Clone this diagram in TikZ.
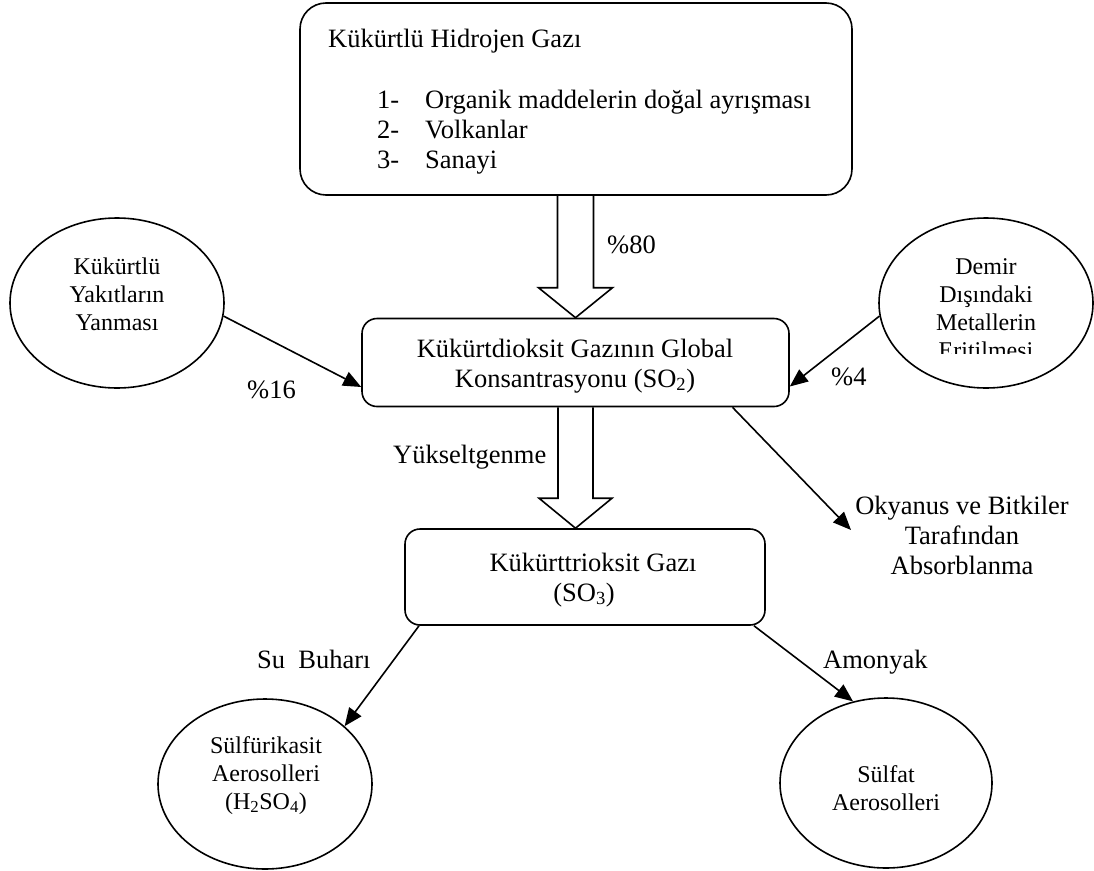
\documentclass[tikz,border=0pt]{standalone}
\usepackage{fontspec}
\setmainfont{Liberation Serif}
\usetikzlibrary{shapes.geometric,arrows.meta,calc}
\newcommand\boxfont{\fontsize{26.5}{30}\selectfont}
\newcommand\ellfont{\fontsize{24}{28}\selectfont}
\newcommand\mystack[1]{\begin{tabular}[t]{@{}c@{}}#1\end{tabular}}
\begin{document}
\begin{tikzpicture}[x=1pt,y=-1pt,
  box/.style={draw,rounded corners=#1,line width=1.6pt,inner sep=0pt},
  box/.default=15pt,
  ell/.style={draw,ellipse,line width=1.6pt,inner sep=0pt,minimum width=214pt,minimum height=170pt},
  txt/.style={inner sep=0pt,font=\boxfont,anchor=base west},
  ctxt/.style={inner sep=0pt,font=\boxfont,anchor=base},
  etxt/.style={inner sep=0pt,font=\ellfont,anchor=base},
  conn/.style={line width=1.6pt,-{Triangle[length=18pt,width=15pt]}},
  hollow/.style={line width=1.6pt,line join=miter}]
\useasboundingbox (0,0) rectangle (1094,870);
\fill[white] (0,0) rectangle (1094,870);
% boxes
\node[box=26pt, minimum width=552pt, minimum height=192pt] (b1) at (576,99) {};
\node[box=15pt, minimum width=427pt, minimum height=88pt] (b2) at (575.5,362.5) {};
\node[box=15pt, minimum width=360pt, minimum height=96pt] (b3) at (585,577) {};
% ellipses
\node[ell] (e1) at (117,303) {};
\node[ell] (e2) at (986,303) {};
\node[ell] (e3) at (265,784) {};
\node[ell, minimum width=212pt] (e4) at (886,783) {};
% box texts
\node[txt] (t1) at (328,47) {Kükürtlü Hidrojen Gazı};
\node[txt] (t1list) at (377,108) {\begin{tabular}[t]{@{}p{48pt}@{}l@{}}1- & Organik maddelerin doğal ayrışması\\ 2- & Volkanlar\\ 3- & Sanayi\end{tabular}};
\node[ctxt] (t2) at (575,357) {\mystack{Kükürtdioksit Gazının Global\\Konsantrasyonu (SO\textsubscript{2})}};
\node[ctxt] (t3a) at (593,571) {Kükürttrioksit Gazı};
\node[ctxt] (t3b) at (584,601) {(SO\textsubscript{3})};
% ellipse texts
\node[etxt] (te1) at (117,274) {\mystack{Kükürtlü\\Yakıtların\\Yanması}};
\begin{scope}
\clip (870,240) rectangle (1100,353);
\node[etxt] (te2) at (986,274) {\mystack{Demir\\Dışındaki\\Metallerin\\Eritilmesi}};
\end{scope}
\node[etxt] (te3) at (266,753) {\mystack{Sülfürikasit\\Aerosolleri\\(H\textsubscript{2}SO\textsubscript{4})}};
\node[etxt] (te4) at (886,782) {\mystack{Sülfat\\Aerosolleri}};
\node[ctxt] (tok) at (962,514) {\mystack{Okyanus ve Bitkiler\\Tarafından\\Absorblanma}};
% labels
\node[txt] (l80) at (607,253) {\%80};
\node[txt] (l16) at (247,398) {\%16};
\node[txt] (l4) at (831,385) {\%4};
\node[txt] (lyu) at (393,463) {Yükseltgenme};
\node[txt] (lsu) at (257,668) {Su\ \ Buharı};
\node[txt] (lam) at (823,668) {Amonyak};
% hollow arrows
\coordinate (a1top) at (b2.north |- b1.south);
\draw[hollow] ($(a1top)+(-18,0)$) -- ($(b2.north)+(-18,-30)$) -- ($(b2.north)+(-37,-30)$) -- (b2.north) -- ($(b2.north)+(37,-30)$) -- ($(b2.north)+(18,-30)$) -- ($(a1top)+(18,0)$);
\coordinate (a2tip) at (b2.south |- b3.north);
\draw[hollow] ($(b2.south)+(-17.5,0)$) -- ($(a2tip)+(-17.5,-30)$) -- ($(a2tip)+(-36.5,-30)$) -- (a2tip) -- ($(a2tip)+(36.5,-30)$) -- ($(a2tip)+(17.5,-30)$) -- ($(b2.south)+(17.5,0)$);
% connectors
\draw[conn] (e1.-7) -- ($(b2.west)+(0,24.5)$);
\draw[conn] (e2.187) -- ($(b2.east)+(0,24)$);
\coordinate (okend) at (851,530);
\draw[conn] ($(b2.south)+(157,0)$) -- (okend);
\draw[conn] ($(b3.south)+(-166,0)$) -- (e3.36);
\draw[conn] ($(b3.south)+(169,0)$) -- (e4.112);
\end{tikzpicture}
\end{document}
